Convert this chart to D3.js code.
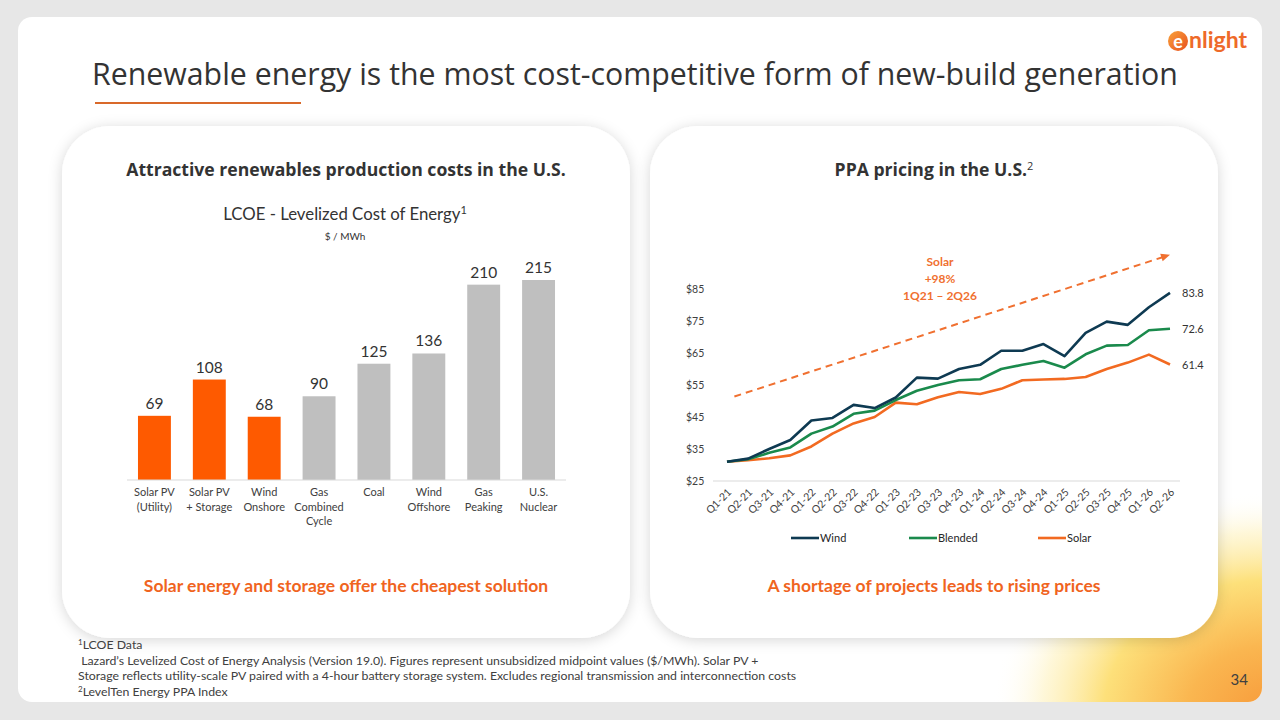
<!DOCTYPE html>
<html>
<head>
<meta charset="utf-8">
<script src="https://cdn.jsdelivr.net/npm/d3@7"></script>
<style>
  body { margin: 0; background: #e7e7e7; }
  svg { display: block; font-family: Lato, "Open Sans", sans-serif; }
</style>
</head>
<body>
<div id="chart"></div>
<script>
// LCOE bars
const lcoeCategories = [
  ['Solar PV', '(Utility)'],
  ['Solar PV', '+ Storage'],
  ['Wind', 'Onshore'],
  ['Gas', 'Combined', 'Cycle'],
  ['Coal'],
  ['Wind', 'Offshore'],
  ['Gas', 'Peaking'],
  ['U.S.', 'Nuclear']
];
const lcoeValues = [69, 108, 68, 90, 125, 136, 210, 215];
const lcoeRenewable = [true, true, true, false, false, false, false, false];

// PPA index
const quarters = ['Q1-21', 'Q2-21', 'Q3-21', 'Q4-21', 'Q1-22', 'Q2-22', 'Q3-22', 'Q4-22',
  'Q1-23', 'Q2-23', 'Q3-23', 'Q4-23', 'Q1-24', 'Q2-24', 'Q3-24', 'Q4-24',
  'Q1-25', 'Q2-25', 'Q3-25', 'Q4-25', 'Q1-26', 'Q2-26'];
const windPrices = [31.0, 32.0, 35.0, 37.8, 43.9, 44.7, 48.8, 47.8, 51.1, 57.3, 57.0,
  60.0, 61.3, 65.7, 65.7, 67.8, 64.0, 71.3, 74.8, 73.8, 79.3, 83.8];
const blendedPrices = [31.0, 31.8, 33.8, 35.5, 39.8, 42.0, 46.0, 47.0, 50.3, 53.2, 55.0,
  56.5, 56.8, 60.0, 61.3, 62.5, 60.4, 64.6, 67.3, 67.5, 72.1, 72.6];
const solarPrices = [31.0, 31.5, 32.1, 33.0, 35.8, 39.8, 43.0, 45.0, 49.5, 49.0, 51.2,
  52.8, 52.2, 53.8, 56.5, 56.7, 56.9, 57.5, 60.0, 62.0, 64.5, 61.4];
const priceTicks = [25, 35, 45, 55, 65, 75, 85];

const footnotes = [
  { sup: '1', text: 'LCOE Data' },
  { sup: '', text: '\u00a0Lazard\u2019s Levelized Cost of Energy Analysis (Version 19.0). Figures represent unsubsidized midpoint values ($/MWh). Solar PV +' },
  { sup: '', text: 'Storage reflects utility-scale PV paired with a 4-hour battery storage system. Excludes regional transmission and interconnection costs' },
  { sup: '2', text: 'LevelTen Energy PPA Index' }
];

const orange = '#fe5a00';
const textDark = '#333333';
const accent = '#f0641e';
const headFont = '"Open Sans", Lato, sans-serif';

const svg = d3.select('#chart').append('svg')
  .attr('width', 1280)
  .attr('height', 720);

const defs = svg.append('defs');

defs.append('clipPath').attr('id', 'slide-clip')
  .append('rect')
  .attr('x', 18).attr('y', 17)
  .attr('width', 1244).attr('height', 685)
  .attr('rx', 14);

const glow = defs.append('radialGradient')
  .attr('id', 'corner-glow')
  .attr('gradientUnits', 'userSpaceOnUse')
  .attr('cx', 0).attr('cy', 0).attr('r', 1)
  .attr('gradientTransform', 'translate(1272,712) scale(280,220)');
[[0, '#f79a3a', 1], [0.3, '#fab650', 1], [0.6, '#fde07a', 1], [0.82, '#fef3c4', 0.65], [1, '#ffffff', 0]]
  .forEach(([o, c, a]) => glow.append('stop')
    .attr('offset', o).attr('stop-color', c).attr('stop-opacity', a));

const shadow = defs.append('filter')
  .attr('id', 'panel-shadow')
  .attr('x', '-10%').attr('y', '-10%')
  .attr('width', '120%').attr('height', '120%');
shadow.append('feDropShadow')
  .attr('dx', 0).attr('dy', 2)
  .attr('stdDeviation', 7)
  .attr('flood-color', '#000')
  .attr('flood-opacity', 0.16);

const lineShadow = defs.append('filter')
  .attr('id', 'line-shadow')
  .attr('x', '-5%').attr('y', '-300%')
  .attr('width', '110%').attr('height', '700%');
lineShadow.append('feGaussianBlur').attr('stdDeviation', 1.5);

const logoGrad = defs.append('linearGradient')
  .attr('id', 'logo-grad')
  .attr('x1', 0).attr('y1', 0).attr('x2', 1).attr('y2', 1);
logoGrad.append('stop').attr('offset', 0).attr('stop-color', '#f9a23b');
logoGrad.append('stop').attr('offset', 1).attr('stop-color', '#e8501e');

// Slide background
svg.append('rect')
  .attr('x', 18).attr('y', 17)
  .attr('width', 1244).attr('height', 685)
  .attr('rx', 14)
  .attr('fill', '#fff');

svg.append('rect')
  .attr('clip-path', 'url(#slide-clip)')
  .attr('x', 900).attr('y', 400)
  .attr('width', 380).attr('height', 320)
  .attr('fill', 'url(#corner-glow)');

// Title
svg.append('text')
  .attr('x', 92).attr('y', 85)
  .attr('font-family', headFont)
  .attr('font-size', 30.3)
  .attr('fill', textDark)
  .text('Renewable energy is the most cost-competitive form of new-build generation');

svg.append('line')
  .attr('x1', 95).attr('x2', 301)
  .attr('y1', 103).attr('y2', 103)
  .attr('stroke', '#d9692a')
  .attr('stroke-width', 2);

// Logo
const logo = svg.append('g').attr('transform', 'translate(1168,40)');
logo.append('circle')
  .attr('cx', 10).attr('cy', 1).attr('r', 10)
  .attr('fill', 'url(#logo-grad)');
logo.append('text')
  .attr('x', 10).attr('y', 7.5)
  .attr('text-anchor', 'middle')
  .attr('font-size', 18).attr('font-weight', 'bold')
  .attr('fill', '#fff')
  .text('e');
logo.append('text')
  .attr('x', 21).attr('y', 8)
  .attr('font-size', 23).attr('font-weight', 'bold')
  .attr('fill', '#ee6a2a')
  .text('nlight');

// Panels
const panels = [
  { x: 62, title: 'Attractive renewables production costs in the U.S.', sup: '',
    note: 'Solar energy and storage offer the cheapest solution' },
  { x: 650, title: 'PPA pricing in the U.S.', sup: '2',
    note: 'A shortage of projects leads to rising prices' }
];
const panelW = 568, panelH = 512, panelY = 126;

panels.forEach(p => {
  const g = svg.append('g');
  g.append('rect')
    .attr('x', p.x).attr('y', panelY)
    .attr('width', panelW).attr('height', panelH)
    .attr('rx', 48)
    .attr('fill', '#fff')
    .attr('filter', 'url(#panel-shadow)');

  const cx = p.x + panelW / 2;
  const t = g.append('text')
    .attr('x', cx).attr('y', 176)
    .attr('text-anchor', 'middle')
    .attr('font-family', headFont)
    .attr('font-size', 17.6).attr('font-weight', 'bold')
    .attr('fill', textDark);
  t.append('tspan').text(p.title);
  if (p.sup) {
    t.append('tspan').attr('font-size', 11).attr('font-weight', 'normal')
      .attr('dy', -6).text(p.sup);
  }

  // divider with soft shadow
  g.append('line')
    .attr('x1', p.x + 28).attr('x2', p.x + panelW - 28)
    .attr('y1', 556).attr('y2', 556)
    .attr('stroke', '#9a9a9a').attr('stroke-width', 2.5)
    .attr('opacity', 0.6)
    .attr('filter', 'url(#line-shadow)');
  g.append('rect')
    .attr('x', p.x + 20).attr('y', 557)
    .attr('width', panelW - 40).attr('height', 6)
    .attr('fill', '#fff');

  g.append('text')
    .attr('x', cx).attr('y', 592)
    .attr('text-anchor', 'middle')
    .attr('font-size', 17.5).attr('font-weight', 'bold')
    .attr('fill', accent)
    .text(p.note);
});

// ---- LCOE bar chart ----
const barChart = svg.append('g');

const lcoeSub = barChart.append('text')
  .attr('x', 345).attr('y', 220)
  .attr('text-anchor', 'middle')
  .attr('font-size', 16.8)
  .attr('fill', textDark);
lcoeSub.append('tspan').text('LCOE - Levelized Cost of Energy');
lcoeSub.append('tspan').attr('font-size', 11).attr('dy', -6).text('1');

barChart.append('text')
  .attr('x', 345).attr('y', 240)
  .attr('text-anchor', 'middle')
  .attr('font-size', 10)
  .attr('fill', textDark)
  .text('$ / MWh');

const xBar = d3.scaleBand()
  .domain(d3.range(lcoeValues.length))
  .range([127, 566])
  .paddingInner(0.4)
  .paddingOuter(0.2);

const yBar = d3.scaleLinear()
  .domain([0, 215])
  .range([480, 280]);

barChart.selectAll('.bar')
  .data(lcoeValues)
  .join('rect')
    .attr('class', 'bar')
    .attr('x', (d, i) => xBar(i))
    .attr('y', d => yBar(d))
    .attr('width', xBar.bandwidth())
    .attr('height', d => yBar(0) - yBar(d))
    .attr('fill', (d, i) => lcoeRenewable[i] ? orange : '#bfbfbf');

barChart.selectAll('.bar-label')
  .data(lcoeValues)
  .join('text')
    .attr('class', 'bar-label')
    .attr('x', (d, i) => xBar(i) + xBar.bandwidth() / 2)
    .attr('y', d => yBar(d) - 7)
    .attr('text-anchor', 'middle')
    .attr('font-size', 15.5)
    .attr('fill', textDark)
    .text(d => d);

barChart.append('line')
  .attr('x1', 127).attr('x2', 566)
  .attr('y1', yBar(0)).attr('y2', yBar(0))
  .attr('stroke', '#d9d9d9');

barChart.selectAll('.cat-label')
  .data(lcoeCategories)
  .join('text')
    .attr('class', 'cat-label')
    .attr('text-anchor', 'middle')
    .attr('font-size', 11)
    .attr('fill', '#404040')
    .each(function (d, i) {
      d3.select(this).selectAll('tspan')
        .data(d)
        .join('tspan')
          .attr('x', xBar(i) + xBar.bandwidth() / 2)
          .attr('y', (l, j) => 496 + j * 14.5)
          .text(l => l);
    });

// ---- PPA line chart ----
const lineChart = svg.append('g');

const xLine = d3.scalePoint()
  .domain(quarters)
  .range([727, 1170]);

const yLine = d3.scaleLinear()
  .domain([25, 85])
  .range([481, 289]);

lineChart.append('line')
  .attr('x1', 713).attr('x2', 1180)
  .attr('y1', yLine(25)).attr('y2', yLine(25))
  .attr('stroke', '#d9d9d9');

lineChart.selectAll('.y-label')
  .data(priceTicks)
  .join('text')
    .attr('class', 'y-label')
    .attr('x', 686)
    .attr('y', d => yLine(d) + 4)
    .attr('font-size', 10.5)
    .attr('fill', '#404040')
    .text(d => `$${d}`);

lineChart.selectAll('.x-label')
  .data(quarters)
  .join('text')
    .attr('class', 'x-label')
    .attr('text-anchor', 'end')
    .attr('font-size', 10.5)
    .attr('fill', '#404040')
    .attr('transform', d => `translate(${xLine(d) + 5},${yLine(25) + 12}) rotate(-45)`)
    .text(d => d);

const series = [
  { name: 'Wind', values: windPrices, colour: '#0e3a52' },
  { name: 'Blended', values: blendedPrices, colour: '#1a8a4c' },
  { name: 'Solar', values: solarPrices, colour: '#f26a21' }
];

const line = d3.line()
  .x((d, i) => xLine(quarters[i]))
  .y(d => yLine(d));

lineChart.selectAll('.series')
  .data(series.slice().reverse())
  .join('path')
    .attr('class', 'series')
    .attr('d', d => line(d.values))
    .attr('fill', 'none')
    .attr('stroke', d => d.colour)
    .attr('stroke-width', 2.6)
    .attr('stroke-linejoin', 'round');

lineChart.selectAll('.end-label')
  .data(series)
  .join('text')
    .attr('class', 'end-label')
    .attr('x', xLine(quarters[quarters.length - 1]) + 12)
    .attr('y', d => yLine(d.values[d.values.length - 1]) + 4)
    .attr('font-size', 11)
    .attr('fill', textDark)
    .text(d => d.values[d.values.length - 1].toFixed(1));

// trend arrow (solar growth annotation)
const arrowStart = { i: 0.35, v: 51.4 };
const arrowEnd = { i: 21, v: 95.7 };
const step = xLine.step();
const ax1 = xLine(quarters[0]) + arrowStart.i * step, ay1 = yLine(arrowStart.v);
const ax2 = xLine(quarters[0]) + arrowEnd.i * step, ay2 = yLine(arrowEnd.v);
const ang = Math.atan2(ay2 - ay1, ax2 - ax1);
lineChart.append('line')
  .attr('x1', ax1).attr('y1', ay1)
  .attr('x2', ax2 - 7 * Math.cos(ang)).attr('y2', ay2 - 7 * Math.sin(ang))
  .attr('stroke', '#f07030')
  .attr('stroke-width', 2)
  .attr('stroke-dasharray', '7,5');
lineChart.append('path')
  .attr('d', d3.line()([
    [ax2, ay2],
    [ax2 - 9 * Math.cos(ang) + 4 * Math.sin(ang), ay2 - 9 * Math.sin(ang) - 4 * Math.cos(ang)],
    [ax2 - 9 * Math.cos(ang) - 4 * Math.sin(ang), ay2 - 9 * Math.sin(ang) + 4 * Math.cos(ang)]
  ]) + 'Z')
  .attr('fill', '#f07030');

lineChart.selectAll('.annot')
  .data(['Solar', '+98%', '1Q21 \u2013 2Q26'])
  .join('text')
    .attr('class', 'annot')
    .attr('x', 940)
    .attr('y', (d, i) => 266 + i * 17)
    .attr('text-anchor', 'middle')
    .attr('font-size', 12).attr('font-weight', 'bold')
    .attr('fill', '#f07030')
    .text(d => d);

// legend
const legendX = [791, 909, 1038];
const legend = lineChart.selectAll('.legend-item')
  .data(series)
  .join('g')
    .attr('class', 'legend-item')
    .attr('transform', (d, i) => `translate(${legendX[i]},538)`);
legend.append('line')
  .attr('x1', 0).attr('x2', 28)
  .attr('stroke', d => d.colour)
  .attr('stroke-width', 2.6);
legend.append('text')
  .attr('x', 29).attr('y', 4)
  .attr('font-size', 11)
  .attr('fill', '#262626')
  .text(d => d.name);

// Footnotes
const notes = svg.append('g');
notes.selectAll('text')
  .data(footnotes)
  .join('text')
    .attr('x', 78)
    .attr('y', (d, i) => 649 + i * 15.5)
    .attr('font-size', 12.3)
    .attr('fill', '#404040')
    .each(function (d) {
      const t = d3.select(this);
      if (d.sup) t.append('tspan').attr('font-size', 8).attr('dy', -4).text(d.sup);
      t.append('tspan').attr('dy', d.sup ? 4 : 0).text(d.text);
    });

// Page number
svg.append('text')
  .attr('x', 1248).attr('y', 685)
  .attr('text-anchor', 'end')
  .attr('font-size', 15)
  .attr('fill', '#404040')
  .text('34');
</script>
</body>
</html>
